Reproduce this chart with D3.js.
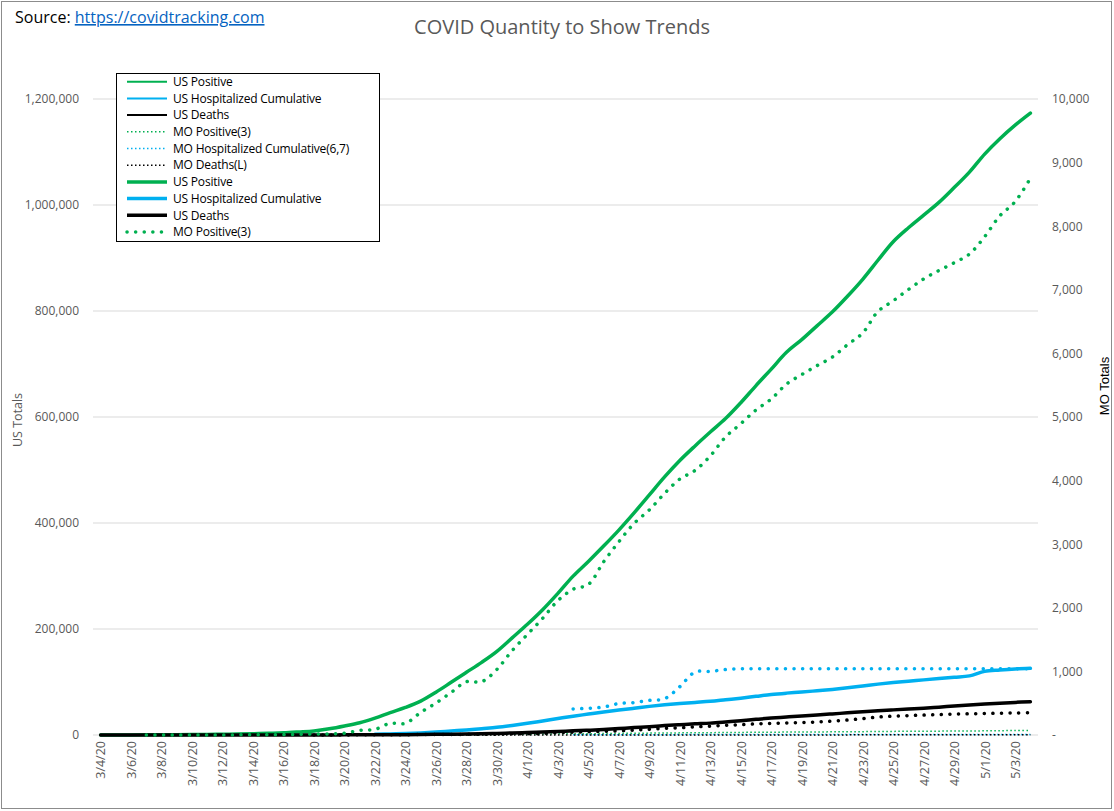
<!DOCTYPE html>
<html>
<head>
<meta charset="utf-8">
<title>COVID Quantity to Show Trends</title>
<script src="https://cdn.jsdelivr.net/npm/d3@7"></script>
<style>
  body { margin: 0; background: #fff; }
  svg text { font-family: "Open Sans", "Liberation Sans", sans-serif; }
</style>
</head>
<body>
<svg id="chart" width="1114" height="811"></svg>
<script>
// categories (3/4/20 .. 5/4/20)
var dates = ["3/4/20","3/5/20","3/6/20","3/7/20","3/8/20","3/9/20","3/10/20","3/11/20","3/12/20","3/13/20",
  "3/14/20","3/15/20","3/16/20","3/17/20","3/18/20","3/19/20","3/20/20","3/21/20","3/22/20","3/23/20",
  "3/24/20","3/25/20","3/26/20","3/27/20","3/28/20","3/29/20","3/30/20","3/31/20",
  "4/1/20","4/2/20","4/3/20","4/4/20","4/5/20","4/6/20","4/7/20","4/8/20","4/9/20","4/10/20",
  "4/11/20","4/12/20","4/13/20","4/14/20","4/15/20","4/16/20","4/17/20","4/18/20","4/19/20","4/20/20",
  "4/21/20","4/22/20","4/23/20","4/24/20","4/25/20","4/26/20","4/27/20","4/28/20","4/29/20","4/30/20",
  "5/1/20","5/2/20","5/3/20","5/4/20"];

// US series (left axis)
var usPositive = [118,176,223,341,417,584,778,1053,1315,1922,
  2450,3173,4019,5723,7730,11719,17033,23197,31879,42152,
  51954,63928,80735,99413,118234,137120,157853,183228,
  208833,236339,267217,299715,327405,356479,386641,419088,452847,486913,
  517946,545454,571662,597018,626937,659281,690358,722000,745975,772023,
  797995,827851,859854,895765,930710,957024,980783,1004872,1032846,1062061,
  1096081,1125099,1150733,1173398];
var usHosp = [null,null,null,null,null,null,null,null,null,null,
  null,null,null,null,null,null,null,null,1200,2000,
  2900,4000,5500,7500,9500,12000,14500,18000,
  22000,26500,31000,35500,39500,43500,47000,50500,54000,57000,
  59500,61500,63500,66500,69500,73000,76500,79000,81000,83500,
  86000,89000,92500,96000,99000,101500,104000,106500,109000,111500,
  120000,122500,124500,125800];
var usDeaths = [10,12,14,17,21,22,28,36,40,47,
  54,63,85,108,118,200,244,307,427,552,
  706,942,1209,1581,2026,2467,2978,3873,
  4500,5500,6600,7900,9000,10300,12100,14000,15700,17700,
  19500,21000,22400,24500,26800,29500,32000,34000,36000,37800,
  39800,41800,43800,45600,47400,49000,50500,52500,54600,56600,
  58400,60000,61500,62800];

// MO series (right axis for the heavy lines)
var moPositive = [null,null,null,1,1,1,1,1,1,2,
  4,5,6,11,15,18,28,73,90,183,
  183,356,502,670,838,838,1031,1327,
  1581,1834,2113,2291,2367,2722,3037,3327,3539,3799,
  4024,4160,4388,4686,4895,5111,5283,5517,5667,5807,
  5941,6137,6321,6660,6826,7005,7171,7303,7425,7562,
  7835,8164,8386,8754];
var moHosp = [null,null,null,null,null,null,null,null,null,null,
  null,null,null,null,null,null,null,null,null,null,
  null,null,null,null,null,null,null,null,
  null,null,null,410,420,440,495,510,545,570,
  760,990,1000,1030,1040,1040,1040,1040,1040,1040,
  1040,1040,1040,1040,1040,1040,1040,1040,1040,1040,
  1040,1040,1040,1040];
var moDeaths = [null,null,null,null,null,null,null,null,null,null,
  null,null,null,null,1,1,1,3,3,5,
  5,8,9,9,10,13,14,18,
  19,24,39,44,50,58,66,77,90,105,
  114,128,140,152,162,175,183,190,196,205,
  218,235,258,282,296,305,313,320,328,333,
  338,342,346,351];

var leftTicks = [0,200000,400000,600000,800000,1000000,1200000];
var rightTicks = [0,1000,2000,3000,4000,5000,6000,7000,8000,9000,10000];

var GREEN = "#00B050", BLUE = "#00B0F0", BLACK = "#000000", GREY = "#595959";

var svg = d3.select("#chart");
var x0 = 93, x1 = 1038, yTop = 99, yBot = 735;

// outer chart border
svg.append("rect").attr("x",1.5).attr("y",1.5).attr("width",1110).attr("height",807)
  .attr("fill","none").attr("stroke","#8c8c8c");

var x = d3.scalePoint().domain(dates).range([x0, x1]).padding(0.5);
var yL = d3.scaleLinear().domain([0,1200000]).range([yBot, yTop]);
var yR = d3.scaleLinear().domain([0,10000]).range([yBot, yTop]);

// gridlines
svg.append("g").selectAll("line").data(leftTicks).join("line")
  .attr("x1", x0).attr("x2", x1)
  .attr("y1", function(d){ return yL(d); }).attr("y2", function(d){ return yL(d); })
  .attr("stroke", "#d9d9d9").attr("stroke-width", 1);

// left axis
var fmt = d3.format(",");
var gl = svg.append("g").attr("transform","translate(" + (x0 - 14) + ",0)")
  .call(d3.axisLeft(yL).tickValues(leftTicks).tickSize(0).tickPadding(0)
    .tickFormat(function(d){ return fmt(d); }));
gl.select(".domain").remove();
gl.selectAll("text").attr("fill", GREY).style("font-size","12px");

// right axis
var gr = svg.append("g").attr("transform","translate(" + (x1 + 14) + ",0)")
  .call(d3.axisRight(yR).tickValues(rightTicks).tickSize(0).tickPadding(0)
    .tickFormat(function(d){ return d === 0 ? "-" : fmt(d); }));
gr.select(".domain").remove();
gr.selectAll("text").attr("fill", GREY).style("font-size","12px");

// x axis labels, every other day
var gx = svg.append("g").attr("transform","translate(0," + (yBot + 6) + ")")
  .call(d3.axisBottom(x).tickValues(dates.filter(function(d,i){ return i % 2 === 0; }))
    .tickSize(0).tickPadding(0));
gx.select(".domain").remove();
gx.selectAll("text").attr("fill", GREY).style("font-size","12.5px")
  .attr("text-anchor","end").attr("dy","0.35em")
  .attr("transform","rotate(-90)").attr("x",0).attr("y",0);

// axis titles
svg.append("text").attr("transform","translate(22,420) rotate(-90)")
  .attr("text-anchor","middle").attr("fill",GREY).style("font-size","12.5px").text("US Totals");
svg.append("text").attr("transform","translate(1109,386) rotate(-90)")
  .attr("text-anchor","middle").attr("fill","#000")
  .style("font-family","'Liberation Sans', Arial, sans-serif").style("font-size","13px").text("MO Totals");

// title and source
svg.append("text").attr("x",562).attr("y",34).attr("text-anchor","middle")
  .attr("fill",GREY).style("font-size","20px").text("COVID Quantity to Show Trends");
var src = svg.append("text").attr("x",15).attr("y",23).style("font-size","16px");
src.append("tspan").attr("fill","#000").text("Source: ");
src.append("tspan").attr("fill","#0563C1").attr("text-decoration","underline").text("https://covidtracking.com");

function drawLine(vals, yScale, color, width, dash) {
  var line = d3.line()
    .defined(function(d){ return d != null; })
    .x(function(d,i){ return x(dates[i]); })
    .y(function(d){ return yScale(d); })
    .curve(d3.curveCatmullRom);
  var p = svg.append("path").datum(vals).attr("d", line)
    .attr("fill","none").attr("stroke", color).attr("stroke-width", width)
    .attr("stroke-linejoin","round");
  if (dash) p.attr("stroke-dasharray", dash).attr("stroke-linecap", width > 2 ? "round" : "butt");
  else p.attr("stroke-linecap","round");
}

var THIN_DOT = "1.5,2.5", THICK_DOT = "0.1,8.5";

// light series, all on the left axis
drawLine(usPositive, yL, GREEN, 1.5);
drawLine(usHosp, yL, BLUE, 1.5);
drawLine(usDeaths, yL, BLACK, 1.5);
drawLine(moPositive, yL, GREEN, 1.5, THIN_DOT);
drawLine(moHosp, yL, BLUE, 1.5, THIN_DOT);
drawLine(moDeaths, yL, BLACK, 1.5, THIN_DOT);
// heavy series: US on left, MO on right
drawLine(usPositive, yL, GREEN, 3.5);
drawLine(usHosp, yL, BLUE, 3.5);
drawLine(usDeaths, yL, BLACK, 3.5);
drawLine(moPositive, yR, GREEN, 3.5, THICK_DOT);
drawLine(moHosp, yR, BLUE, 3.5, THICK_DOT);
drawLine(moDeaths, yR, BLACK, 3.5, THICK_DOT);

// legend
var legendItems = [
  {name:"US Positive", color:GREEN, w:2, dash:null},
  {name:"US Hospitalized Cumulative", color:BLUE, w:2, dash:null},
  {name:"US Deaths", color:BLACK, w:2, dash:null},
  {name:"MO Positive(3)", color:GREEN, w:1.5, dash:THIN_DOT},
  {name:"MO Hospitalized Cumulative(6,7)", color:BLUE, w:1.5, dash:THIN_DOT},
  {name:"MO Deaths(L)", color:BLACK, w:1.5, dash:THIN_DOT},
  {name:"US Positive", color:GREEN, w:3.5, dash:null},
  {name:"US Hospitalized Cumulative", color:BLUE, w:3.5, dash:null},
  {name:"US Deaths", color:BLACK, w:3.5, dash:null},
  {name:"MO Positive(3)", color:GREEN, w:3.5, dash:THICK_DOT}
];
var lg = svg.append("g");
lg.append("rect").attr("x",116.5).attr("y",73.5).attr("width",263).attr("height",168)
  .attr("fill","#fff").attr("stroke","#000");
var rows = lg.selectAll("g.item").data(legendItems).join("g").attr("class","item")
  .attr("transform", function(d,i){ return "translate(0," + (81.7 + i * 16.7) + ")"; });
rows.append("line").attr("x1",127).attr("x2",167).attr("y1",0).attr("y2",0)
  .attr("stroke", function(d){ return d.color; })
  .attr("stroke-width", function(d){ return d.w; })
  .attr("stroke-dasharray", function(d){ return d.dash; })
  .attr("stroke-linecap", function(d){ return d.dash && d.w > 2 ? "round" : "butt"; });
rows.append("text").attr("x",173).attr("y",0).attr("dy","0.35em")
  .attr("fill","#000").style("font-size","12px").style("letter-spacing","-0.2px")
  .text(function(d){ return d.name; });
</script>
</body>
</html>
